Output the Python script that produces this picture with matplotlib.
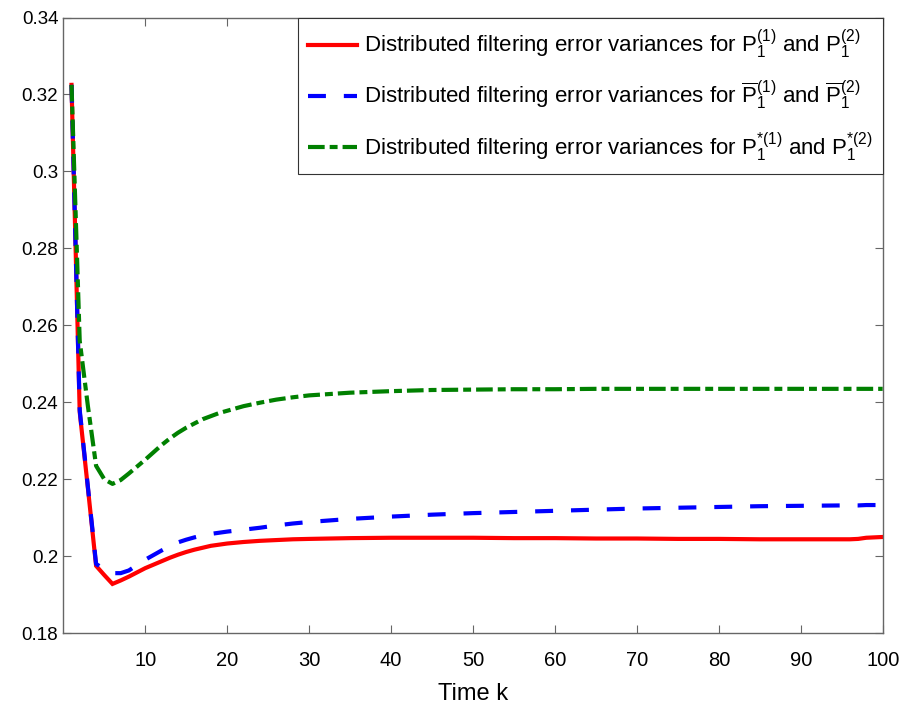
import matplotlib
matplotlib.use("Agg")
import matplotlib.pyplot as plt

plt.rcParams['font.family'] = ['Liberation Sans', 'DejaVu Sans']
plt.rcParams['mathtext.fontset'] = 'custom'
plt.rcParams['mathtext.rm'] = 'Liberation Sans'
plt.rcParams['mathtext.it'] = 'Liberation Sans'

# time steps (denser where the curves bend)
k = [1, 2, 3, 4, 5, 6, 7, 8, 9, 10, 11, 12, 13, 14, 15, 16, 17, 18, 19, 20,
     22, 24, 26, 28, 30, 35, 40, 45, 50, 55, 60, 65, 70, 75, 80, 85, 90, 95,
     96, 97, 98, 99, 100]

var_p = [0.3225, 0.2375, 0.2177, 0.1975, 0.1951, 0.1928, 0.1937, 0.1947, 0.1958, 0.1969,
         0.1978, 0.1987, 0.1996, 0.2004, 0.2011, 0.2017, 0.2022, 0.2027, 0.2030, 0.2033,
         0.2037, 0.2040, 0.2042, 0.2044, 0.2045, 0.2047, 0.2048, 0.2048, 0.2048, 0.2047,
         0.2047, 0.2046, 0.2046, 0.2045, 0.2045, 0.2044, 0.2044, 0.2044,
         0.2044, 0.2045, 0.2048, 0.2049, 0.2050]

var_pbar = [0.3225, 0.2380, 0.2180, 0.1980, 0.1966, 0.1956, 0.1956, 0.1963, 0.1977, 0.1991,
            0.2003, 0.2015, 0.2026, 0.2036, 0.2043, 0.2049, 0.2054, 0.2058, 0.2061, 0.2064,
            0.2069, 0.2074, 0.2080, 0.2085, 0.2089, 0.2097, 0.2103, 0.2108, 0.2112, 0.2115,
            0.2118, 0.2121, 0.2124, 0.2126, 0.2128, 0.2130, 0.2131, 0.2132,
            0.2132, 0.2132, 0.2133, 0.2133, 0.2133]

var_pstar = [0.3225, 0.2560, 0.2390, 0.2235, 0.2200, 0.2188, 0.2198, 0.2215, 0.2233, 0.2251,
             0.2270, 0.2289, 0.2306, 0.2321, 0.2334, 0.2345, 0.2356, 0.2364, 0.2372, 0.2378,
             0.2390, 0.2399, 0.2407, 0.2413, 0.2418, 0.2425, 0.2429, 0.2432, 0.2433, 0.2434,
             0.2434, 0.2435, 0.2435, 0.2435, 0.2435, 0.2435, 0.2435, 0.2435,
             0.2435, 0.2435, 0.2435, 0.2435, 0.2435]

labels = [
    r'Distributed filtering error variances for $\mathregular{P_1^{(1)}}$ and $\mathregular{P_1^{(2)}}$',
    r'Distributed filtering error variances for $\mathregular{\overline{P}_1^{(1)}}$ and $\mathregular{\overline{P}_1^{(2)}}$',
    r'Distributed filtering error variances for $\mathregular{P_1^{*(1)}}$ and $\mathregular{P_1^{*(2)}}$',
]

fig = plt.figure(figsize=(9.02, 7.04), dpi=100)
ax = fig.add_axes([0.0702, 0.1006, 0.9084, 0.8745])

ax.plot(k, var_p, color='#ff0000', lw=3, solid_joinstyle='miter', label=labels[0])
ax.plot(k, var_pbar, color='#0000ff', lw=3, dashes=(4.3, 4.3), dash_capstyle='butt', label=labels[1])
ax.plot(k, var_pstar, color='#008000', lw=3, dashes=(4.0, 1.2, 1.9, 1.2), dash_capstyle='butt', label=labels[2])

ax.set_xlim(0, 100)
ax.set_ylim(0.18, 0.34)
ax.set_xticks(range(10, 101, 10))
ax.set_yticks([0.18, 0.2, 0.22, 0.24, 0.26, 0.28, 0.3, 0.32, 0.34])
ax.set_yticklabels(['0.18', '0.2', '0.22', '0.24', '0.26', '0.28', '0.3', '0.32', '0.34'])
ax.tick_params(direction='in', length=6, width=0.8, color='#666666',
               top=True, right=True)
ax.tick_params(axis='x', labelsize=14.5, pad=13)
ax.tick_params(axis='y', labelsize=13.5, pad=3.6)
for s in ax.spines.values():
    s.set_color('#666666')
    s.set_linewidth(1.0)
ax.set_xlabel('Time k', fontsize=17, labelpad=9)

leg = ax.legend(loc='upper right', fontsize=16, borderaxespad=0, handlelength=2.2,
                handletextpad=0.3, labelspacing=0.8, borderpad=0.45, fancybox=False,
                framealpha=1, edgecolor='#333333')
leg.get_frame().set_linewidth(0.8)

plt.savefig('out.png', dpi=100)
